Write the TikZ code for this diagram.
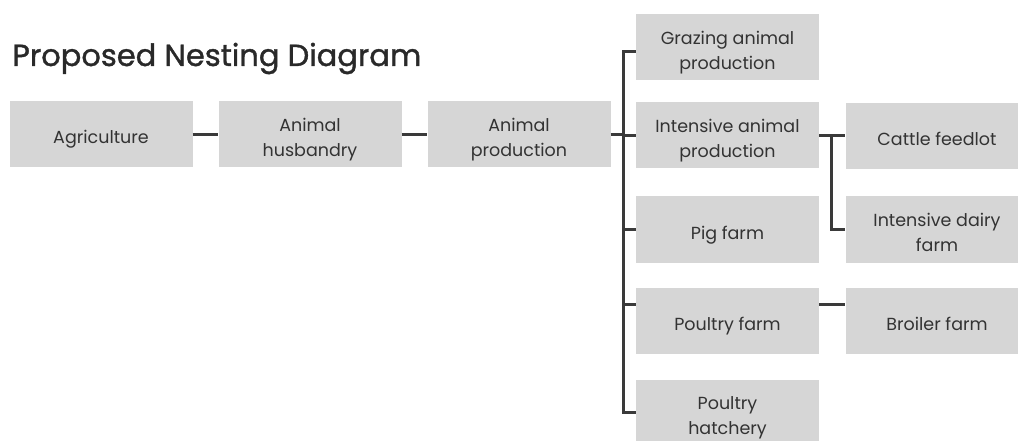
\documentclass[tikz,border=0pt]{standalone}
\usepackage{fontspec}
\setmainfont{Poppins}
\newfontfamily\headfont{Poppins}[FakeBold=1.2]
\usepackage{tikz}
\usetikzlibrary{positioning,calc}
\definecolor{boxgray}{HTML}{D6D6D6}
\definecolor{linegray}{HTML}{3A3A3A}
\definecolor{textgray}{HTML}{333333}
\setlength{\tabcolsep}{0pt}
\newcommand{\lbl}[1]{\raisebox{-4.5pt}[\height][\depth]{\begin{tabular}{c}#1\end{tabular}}}
\tikzset{cat/.style={fill=boxgray,minimum width=183pt,minimum height=66pt,inner sep=2pt,
    text=textgray,font=\fontsize{17.5}{25}\selectfont},
  conn/.style={draw=linegray,line width=3pt}}

\begin{document}
\begin{tikzpicture}[x=1pt,y=-1pt]
\useasboundingbox (0,0) rectangle (1018,441);
\clip (0,0) rectangle (1018,441);
\node[anchor=base west,inner sep=0pt,text=textgray!80!black,font=\headfont\fontsize{30.5}{36}\selectfont] (title) at (12,66){Proposed Nesting Diagram};
% first row
\node[cat] (agri) at (101,134.5){\lbl{Agriculture}};
\node[cat] (husb) at (310,134.5){\lbl{Animal\\husbandry}};
\node[cat] (aprod) at (519,134.5){\lbl{Animal\\production}};
% second column
\node[cat] (graz) at (727.5,47.5){\lbl{Grazing animal\\production}};
\node[cat] (inten) at (727.5,135.5){\lbl{Intensive animal\\production}};
\node[cat] (pig) at (727.5,229.5){\lbl{Pig farm}};
\node[cat] (poul) at (727.5,321){\lbl{Poultry farm}};
\node[cat] (hatch) at (727.5,412.5){\lbl{Poultry\\hatchery}};
% third column
\node[cat] (cattle) at (937,136.5){\lbl{Cattle feedlot}};
\node[cat] (dairy) at (937,229.5){\lbl{Intensive dairy\\farm}};
\node[cat] (broil) at (937,321){\lbl{Broiler farm}};
\coordinate (bus) at (623,0);
\coordinate (sub) at (831,0);
\draw[conn] (agri)--(husb); \draw[conn] (husb)--(aprod); \draw[conn] (aprod.east)--(aprod.east -| bus);
\draw[conn] ([yshift=-4pt]graz.west) -- ([yshift=-4pt]graz.west -| bus) -- (hatch.west -| bus) -- (hatch.west);
\foreach \n in {inten,pig} \draw[conn] (\n.west -| bus) -- (\n.west);
\draw[conn] ([yshift=17pt]poul.west -| bus) -- ([yshift=17pt]poul.west);
\draw[conn] ([yshift=17pt]poul.east) -- ([yshift=17pt]broil.west);
\draw[conn] (inten.east) -- (inten.east -| cattle.west);
\draw[conn] (inten.east -| sub) -- (dairy.west -| sub) -- (dairy.west);
\end{tikzpicture}
\end{document}
